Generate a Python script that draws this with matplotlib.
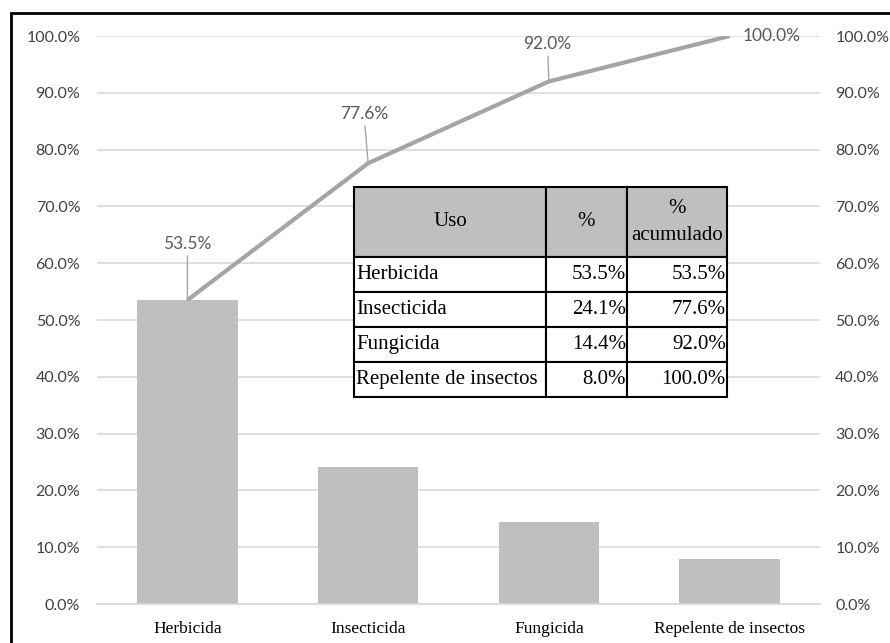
import matplotlib
matplotlib.use("Agg")
import matplotlib.pyplot as plt
from matplotlib.patches import Rectangle
from matplotlib.ticker import FuncFormatter

# Pareto data: pesticide use
categories = ["Herbicida", "Insecticida", "Fungicida", "Repelente de insectos"]
share = [53.5, 24.1, 14.4, 8.0]
cumulative = [53.5, 77.6, 92.0, 100.0]
table_header = ["Uso", "%", "%\nacumulado"]
yticks = [0, 10, 20, 30, 40, 50, 60, 70, 80, 90, 100]

bar_color = "#bfbfbf"
line_color = "#a5a5a5"
grid_color = "#d9d9d9"
tick_color = "#404040"
label_font = "Lato"
serif_font = "Liberation Serif"

fig = plt.figure(figsize=(8.9, 6.43), dpi=100)
ax = fig.add_axes([97 / 890, 1 - 604 / 643, 723 / 890, 568 / 643])

x = list(range(len(categories)))
ax.bar(x, share, width=0.555, color=bar_color, zorder=2)
ax.plot(x, cumulative, color=line_color, lw=3, zorder=3, solid_capstyle="butt")

ax.set_xlim(-0.5, len(categories) - 0.5)
ax.set_ylim(0, 100)
ax.set_yticks(yticks)
fmt = FuncFormatter(lambda v, _: f"{v:.1f}%")
ax.yaxis.set_major_formatter(fmt)
ax.grid(axis="y", color=grid_color, lw=1.2, zorder=0)
ax.set_axisbelow(True)
for side in ["left", "right", "top"]:
    ax.spines[side].set_visible(False)
ax.spines["bottom"].set_color(grid_color)
ax.spines["bottom"].set_linewidth(1.2)
ax.tick_params(axis="both", length=0)
ax.tick_params(axis="y", pad=12, labelsize=11.5, labelcolor=tick_color)
for t in ax.get_yticklabels():
    t.set_fontfamily(label_font)
ax.set_xticks(x)
ax.set_xticklabels(categories, fontfamily=serif_font, fontsize=12.5, color="black")
ax.tick_params(axis="x", pad=12)

# Secondary axis on the right, same scale
ax2 = ax.twinx()
ax2.set_ylim(0, 100)
ax2.set_yticks(yticks)
ax2.yaxis.set_major_formatter(fmt)
for side in ["left", "right", "top", "bottom"]:
    ax2.spines[side].set_visible(False)
ax2.tick_params(axis="y", length=0, pad=11, labelsize=11.5, labelcolor=tick_color)
for t in ax2.get_yticklabels():
    t.set_fontfamily(label_font)

# Cumulative labels with leader lines
offsets = [(0, 35), (-3, 30), (-1, 21), (30, 0)]
for xi, val, off in zip(x, cumulative, offsets):
    kw = dict(arrowprops=dict(arrowstyle="-", color="#a6a6a6", lw=1,
                              shrinkA=1, shrinkB=0)) if off[0] < 10 else {}
    ax.annotate(f"{val:.1f}%", xy=(xi, val), xytext=off, textcoords="offset points",
                ha="center", va="bottom" if off[1] > 0 else "center",
                fontsize=12.5, fontfamily=label_font, color="#595959", zorder=4, **kw)

# Summary table
cell_text = [[c, f"{s:.1f}%", f"{cu:.1f}%"] for c, s, cu in zip(categories, share, cumulative)]
tbl = ax.table(cellText=cell_text, colLabels=table_header,
               bbox=[(354 - 97) / 723, (604 - 397) / 568, (727 - 354) / 723, (397 - 187) / 568],
               zorder=5)
tbl.auto_set_font_size(False)
col_w = [192, 81, 100]
for (r, c), cell in tbl.get_celld().items():
    cell.set_width(col_w[c])
    cell.set_height(2.0 if r == 0 else 1.0)
    cell.set_edgecolor("black")
    cell.set_linewidth(1.5)
    txt = cell.get_text()
    txt.set_fontfamily(serif_font)
    txt.set_fontsize(15)
    cell.PAD = 0.012
    if r == 0:
        cell.set_facecolor("#bfbfbf")
        cell._loc = "center"
        txt.set_ha("center")
        txt.set_linespacing(1.6)
        txt.set_multialignment("center")
    else:
        cell.set_facecolor("white")
        loc = "left" if c == 0 else "right"
        cell._loc = loc
        txt.set_ha(loc)

# Frame around the chart area
fig.patches.append(Rectangle((11 / 890, -0.1), 1.2, (1 - 13 / 643) + 0.1,
                             transform=fig.transFigure, fill=False,
                             edgecolor="black", lw=2, zorder=10))

fig.savefig("out.png", dpi=100)
